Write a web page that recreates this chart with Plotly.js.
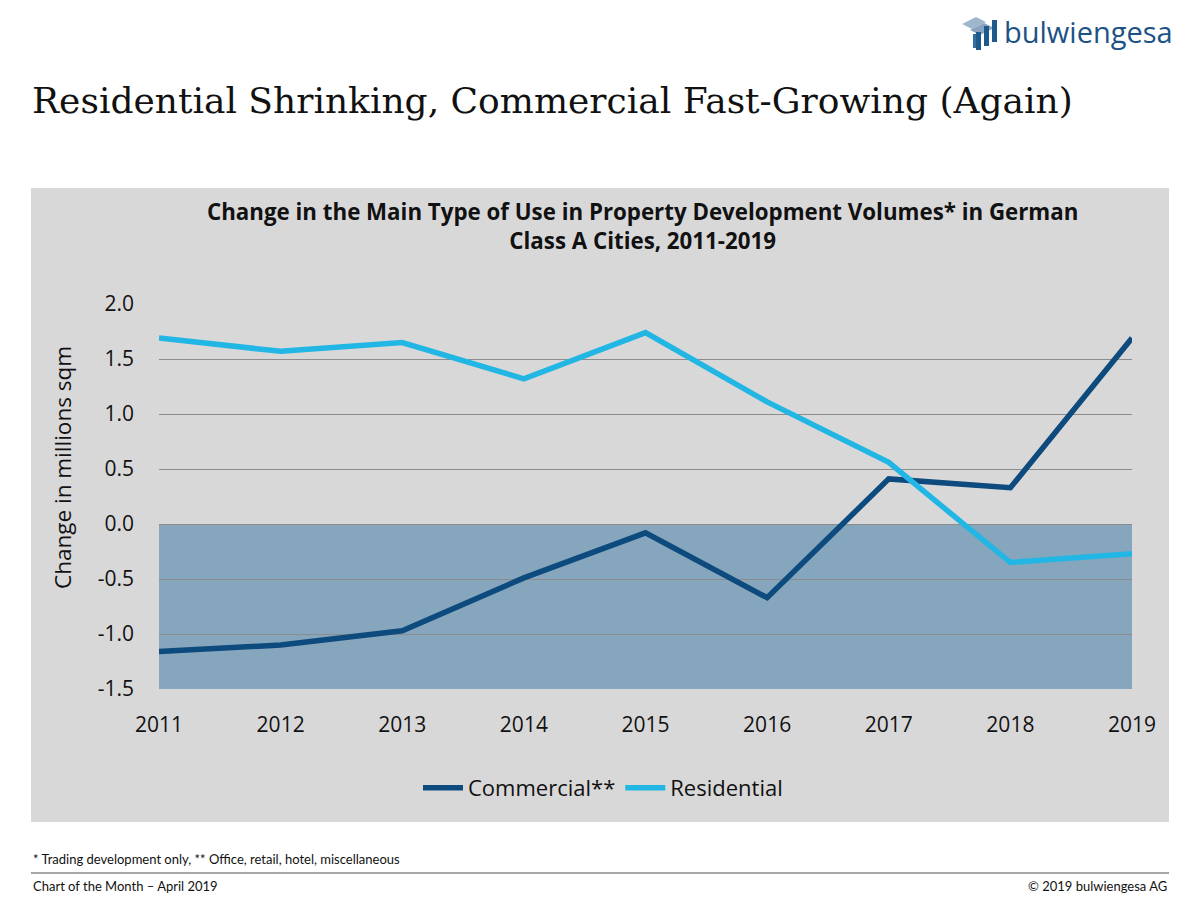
<!DOCTYPE html>
<html><head><meta charset="utf-8">
<script src="https://cdn.plot.ly/plotly-3.0.1.min.js"></script>
<style>html,body{margin:0;padding:0;background:#fff;}#chart{width:1200px;height:900px;}</style>
</head><body><div id="chart"></div>
<script>
const years = ['2011','2012','2013','2014','2015','2016','2017','2018','2019'];
const commercial = [-1.16, -1.10, -0.97, -0.49, -0.08, -0.67, 0.41, 0.33, 1.69];
const residential = [1.69, 1.57, 1.65, 1.32, 1.74, 1.11, 0.56, -0.35, -0.27];
const yTicks = [-1.5, -1.0, -0.5, 0.0, 0.5, 1.0, 1.5, 2.0];
const yTickLabels = ['-1.5','-1.0','-0.5','0.0','0.5','1.0','1.5','2.0'];

const W = 1200, H = 900;
const L = 159, R = 1132, T = 304, B = 689;
const px = x => (x - L) / (R - L);
const py = y => (B - y) / (B - T);
const FONT = 'Lato, "Open Sans", sans-serif';

const traces = [
  {x: years, y: commercial, name: 'Commercial**', type: 'scatter', mode: 'lines',
   line: {color: '#0d4a7d', width: 5.5}},
  {x: years, y: residential, name: 'Residential', type: 'scatter', mode: 'lines',
   line: {color: '#22b6e4', width: 5.5}}
];

const shapes = [
  {type: 'rect', xref: 'paper', yref: 'paper', x0: px(31), x1: px(1169), y0: py(822), y1: py(188),
   fillcolor: '#d9d8d9', line: {width: 0}, layer: 'below'},
  {type: 'rect', xref: 'paper', yref: 'y', x0: 0, x1: 1, y0: -1.5, y1: 0,
   fillcolor: '#85a6bc', line: {width: 0}, layer: 'between'},
  {type: 'line', xref: 'paper', yref: 'paper', x0: px(31), x1: px(1169), y0: py(873), y1: py(873),
   line: {color: '#8a8a8a', width: 1.5}},
  // logo icon
  {type: 'path', xref: 'paper', yref: 'paper',
   path: `M ${px(962)},${py(24)} L ${px(976)},${py(17)} L ${px(986)},${py(22)} L ${px(972)},${py(29)} Z`,
   fillcolor: '#9fb6cc', line: {width: 0}},
  {type: 'path', xref: 'paper', yref: 'paper',
   path: `M ${px(970)},${py(30)} L ${px(984)},${py(23)} L ${px(994)},${py(28)} L ${px(980)},${py(35)} Z`,
   fillcolor: '#8aa4bf', line: {width: 0}},
  {type: 'rect', xref: 'paper', yref: 'paper', x0: px(976), x1: px(981), y0: py(50), y1: py(32),
   fillcolor: '#1e5a8c', line: {width: 0}},
  {type: 'rect', xref: 'paper', yref: 'paper', x0: px(984), x1: px(989), y0: py(46), y1: py(26),
   fillcolor: '#1e5a8c', line: {width: 0}},
  {type: 'rect', xref: 'paper', yref: 'paper', x0: px(992), x1: px(997), y0: py(42), y1: py(20),
   fillcolor: '#1e5a8c', line: {width: 0}},
  {type: 'rect', xref: 'paper', yref: 'paper', x0: px(973), x1: px(976), y0: py(48), y1: py(34),
   fillcolor: '#2f6fa3', line: {width: 0}}
];

const annotations = [
  {text: 'Residential Shrinking, Commercial Fast-Growing (Again)', xref: 'paper', yref: 'paper',
   x: px(30), y: py(100), xanchor: 'left', yanchor: 'middle', showarrow: false,
   font: {family: '"DejaVu Serif", "Liberation Serif", serif', size: 36, color: '#111'}},
  {text: '<b>Change in the Main Type of Use in Property Development Volumes* in German<br>Class A Cities, 2011-2019</b>',
   xref: 'paper', yref: 'paper', x: px(642), y: py(226), xanchor: 'center', yanchor: 'middle', showarrow: false,
   font: {family: '"Open Sans", sans-serif', size: 22.3, color: '#111'}},
  {text: 'Change in millions sqm', xref: 'paper', yref: 'paper', textangle: -90,
   x: px(62), y: py(468), xanchor: 'center', yanchor: 'middle', showarrow: false,
   font: {family: '"Open Sans", sans-serif', size: 22.5, color: '#111'}},
  {text: '* Trading development only, ** Office, retail, hotel, miscellaneous', xref: 'paper', yref: 'paper',
   x: px(31), y: py(859), xanchor: 'left', yanchor: 'middle', showarrow: false,
   font: {family: FONT, size: 13, color: '#111'}},
  {text: 'Chart of the Month \u2013 April 2019', xref: 'paper', yref: 'paper',
   x: px(31), y: py(886), xanchor: 'left', yanchor: 'middle', showarrow: false,
   font: {family: FONT, size: 13, color: '#111'}},
  {text: '\u00a9 2019 bulwiengesa AG', xref: 'paper', yref: 'paper',
   x: px(1169), y: py(886), xanchor: 'right', yanchor: 'middle', showarrow: false,
   font: {family: FONT, size: 13, color: '#111'}},
  {text: 'bulwiengesa', xref: 'paper', yref: 'paper',
   x: px(1002), y: py(31), xanchor: 'left', yanchor: 'middle', showarrow: false,
   font: {family: '"Open Sans", sans-serif', size: 29, color: '#1d5286'}}
];

const layout = {
  width: W, height: H,
  margin: {l: L, r: W - R, t: T, b: H - B, pad: 0},
  paper_bgcolor: '#ffffff', plot_bgcolor: 'rgba(0,0,0,0)',
  showlegend: true,
  legend: {orientation: 'h', x: px(603), xanchor: 'center', y: py(788), yanchor: 'middle',
           font: {family: '"Open Sans", sans-serif', size: 22, color: '#111'}, bgcolor: 'rgba(0,0,0,0)', itemwidth: 40, tracegroupgap: 0},
  xaxis: {type: 'category', range: [0, 8], showgrid: false, zeroline: false, showline: false,
          ticks: '', tickfont: {family: '"Open Sans", sans-serif', size: 21, color: '#111'}, ticklabelstandoff: 21, fixedrange: true},
  yaxis: {range: [-1.5, 2.0], tickvals: yTicks, ticktext: yTickLabels, showgrid: true, gridcolor: '#8c8c8c', gridwidth: 1,
          zeroline: false, showline: false, ticks: '', ticklabelstandoff: 24,
          tickfont: {family: '"Open Sans", sans-serif', size: 21, color: '#111'}},
  shapes: shapes,
  annotations: annotations
};

Plotly.newPlot('chart', traces, layout, {displayModeBar: false, staticPlot: true});
</script>
</body></html>
